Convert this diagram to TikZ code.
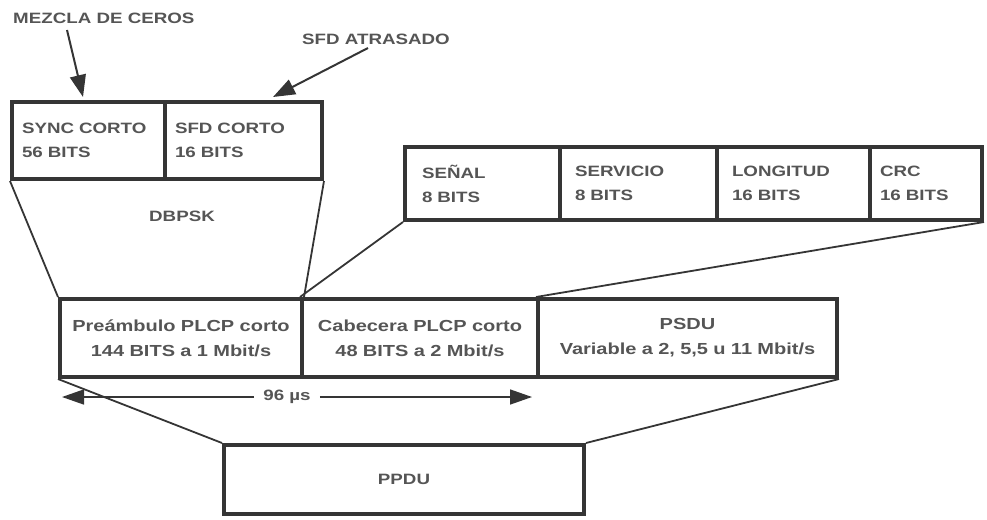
\documentclass[tikz,border=0pt]{standalone}
\usepackage{fontspec}
\newfontfamily\lbl[FakeStretch=1.25]{Liberation Sans Bold}
\usetikzlibrary{arrows.meta}
\definecolor{txt}{HTML}{555555}
\definecolor{brd}{HTML}{353535}
\begin{document}
\begin{tikzpicture}[x=1pt,y=-1pt,
  cell/.style={draw=brd, line width=4pt, rectangle, anchor=north west,
    inner xsep=10pt, inner ysep=0pt, text=txt,
    font=\lbl\fontsize{15}{24}\selectfont},
  midcell/.style={cell, inner xsep=4pt, align=center, minimum height=78pt,
    font=\lbl\fontsize{16}{25}\selectfont},
  lab/.style={text=txt, inner sep=2pt, font=\lbl\fontsize{15}{18}\selectfont},
  conn/.style={draw=brd, line width=1.8pt},
  arr/.style={draw=brd, line width=2pt, -{Triangle[length=22pt,width=16pt]}},
  dim/.style={draw=brd, line width=1.5pt, -{Triangle[length=22pt,width=15pt]}}]
\useasboundingbox (0,0) rectangle (987,519);

% top box
\node[cell, align=left, text width=133pt, minimum height=77pt] (sync) at (10,100) {SYNC CORTO\\56 BITS};
\node[cell, align=left, text width=137pt, minimum height=77pt] (sfd) at (163,100) {SFD CORTO\\16 BITS};

% right box
\node[cell, inner xsep=17pt, align=left, text width=121pt, minimum height=73pt] (senal) at (403,145) {SEÑAL\\8 BITS};
\node[cell, inner xsep=15pt, align=left, text width=127pt, minimum height=73pt] (servicio) at (558,145) {SERVICIO\\8 BITS};
\node[cell, inner xsep=15pt, align=left, text width=123pt, minimum height=73pt] (longitud) at (715,145) {LONGITUD\\16 BITS};
\node[cell, inner xsep=10pt, align=left, text width=92pt, minimum height=73pt] (crc) at (868,145) {CRC\\16 BITS};

% middle box
\node[midcell, text width=234pt] (pre) at (58,297) {Preámbulo PLCP corto\\144 BITS a 1 Mbit/s};
\node[midcell, text width=228pt] (cab) at (300,297) {Cabecera PLCP corto\\48 BITS a 2 Mbit/s};
\node[midcell, text width=291pt] (psdu) at (536,297) {PSDU\\Variable a 2, 5,5 u 11 Mbit/s};

% PPDU
\node[cell, align=center, text width=340pt, minimum height=69pt] (ppdu) at (222,443) {PPDU};

% labels
\node[lab, anchor=west] (mez) at (11,18) {MEZCLA DE CEROS};
\node[lab, anchor=west] (atr) at (300,39) {SFD ATRASADO};
\node[lab] (dbpsk) at (182,216) {DBPSK};
\node[lab, inner xsep=9pt] (us) at (287,397) {96 µs};

\coordinate (m1) at (67,30);
\coordinate (m2) at (83,97);
\coordinate (s1) at (368,48);
\coordinate (s2) at (273,97);
\coordinate (d1) at (62,397);
\coordinate (d2) at (532,397);

% connectors
\draw[conn] (sync.south west) -- (pre.north west);
\draw[conn] (sfd.south east) -- (pre.north east);
\draw[conn] (senal.south west) -- (cab.north west);
\draw[conn] (crc.south east) -- (psdu.north west);
\draw[conn] (pre.south west) -- (ppdu.north west);
\draw[conn] (psdu.south east) -- (ppdu.north east);

% arrows
\draw[arr] (m1) -- (m2);
\draw[arr] (s1) -- (s2);
\draw[dim] (us.west) -- (d1);
\draw[dim] (us.east) -- (d2);
\end{tikzpicture}
\end{document}
